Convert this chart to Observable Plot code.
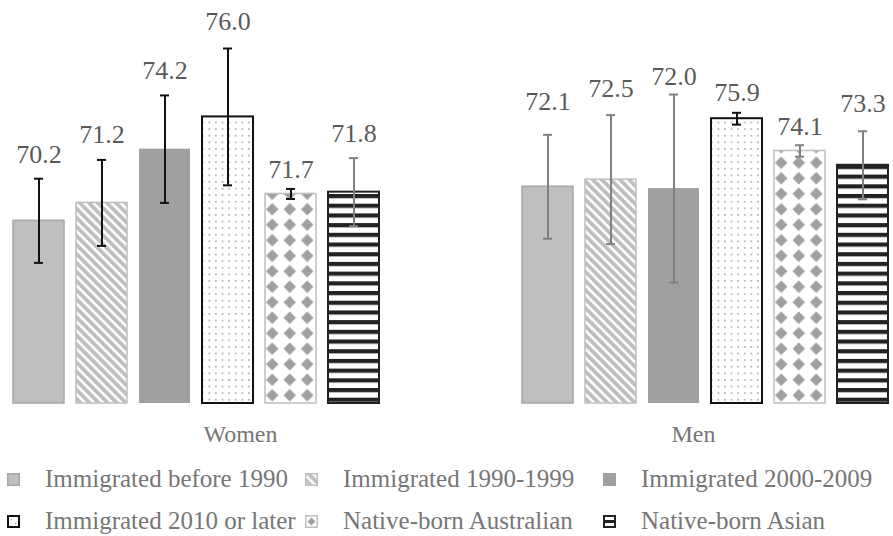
<!DOCTYPE html>
<html>
<head>
<meta charset="utf-8">
<script src="https://cdn.jsdelivr.net/npm/d3@7"></script>
<script src="https://cdn.jsdelivr.net/npm/@observablehq/plot@0.6"></script>
<style>
  body { margin: 0; background: #fff; font-family: "Liberation Serif", "Times New Roman", Times, serif; }
  #chart svg { display: block; }
  #legend { display: grid; grid-template-columns: 298px 298px 297px; width: 893px; }
  .item { display: flex; align-items: center; height: 42px; color: #767676; font-size: 25px; white-space: nowrap; }
  .item svg { margin-left: 7px; margin-right: 25px; flex: none; }
</style>
</head>
<body>
<svg width="0" height="0" style="position:absolute">
  <defs>
    <pattern id="pStripe" patternUnits="userSpaceOnUse" width="6.4" height="6.4" patternTransform="rotate(-45)">
      <rect width="6.4" height="6.4" fill="#fff"/>
      <rect width="3.8" height="6.4" fill="#bfbfbf"/>
    </pattern>
    <pattern id="pDots" patternUnits="userSpaceOnUse" width="6.6" height="6.6">
      <rect width="6.6" height="6.6" fill="#fff"/>
      <rect x="3" y="3" width="1.4" height="1.4" fill="#8c8c8c"/>
    </pattern>
    <pattern id="pDiamond" patternUnits="userSpaceOnUse" width="17.5" height="15.5">
      <rect width="17.5" height="15.5" fill="#fff"/>
      <polygon points="8.75,1.5 15,7.75 8.75,14 2.5,7.75" fill="#a0a0a0"/>
    </pattern>
    <pattern id="pHStripe" patternUnits="userSpaceOnUse" width="10" height="9.7">
      <rect width="10" height="9.7" fill="#fff"/>
      <rect y="0" width="10" height="4.2" fill="#222"/>
    </pattern>
  </defs>
</svg>
<div id="chart"></div>
<div id="legend"></div>
<script>
// Average values by group and migration / birthplace category, with error margins
const groups = ["Women", "Men"];
const seriesNames = [
  "Immigrated before 1990",
  "Immigrated 1990-1999",
  "Immigrated 2000-2009",
  "Immigrated 2010 or later",
  "Native-born Australian",
  "Native-born Asian"
];
const womenValues = [70.2, 71.2, 74.2, 76.0, 71.7, 71.8];
const menValues   = [72.1, 72.5, 72.0, 75.9, 74.1, 73.3];
const womenErrors = [2.35, 2.4, 3.0, 3.82, 0.28, 1.9];
const menErrors   = [2.9, 3.6, 5.25, 0.33, 0.32, 1.9];

// Look of each category's bar
const barStyles = [
  { fill: "#bfbfc1", stroke: "#a6a6a6", sw: 1.5 },
  { fill: "url(#pStripe)", stroke: "#bfbfbf", sw: 1.5 },
  { fill: "#a0a0a0", stroke: "none", sw: 0 },
  { fill: "url(#pDots)", stroke: "#111", sw: 2 },
  { fill: "url(#pDiamond)", stroke: "#bfbfbf", sw: 1.5 },
  { fill: "url(#pHStripe)", stroke: "#222", sw: 2 }
];
// Error bar colour per group, per category
const errorColors = {
  Women: ["#111", "#111", "#111", "#111", "#111", "#808080"],
  Men:   ["#808080", "#808080", "#808080", "#111", "#808080", "#808080"]
};
// Gap (px) between the top of each error bar and its value label
const labelLift = {
  Women: [16, 17, 16, 19, 11, 16],
  Men:   [25, 18, 10, 12, 10, 19]
};
// Horizontal nudge of the group captions
const captionShift = { Women: 44, Men: -12 };

const rows = groups.flatMap((g, gi) => seriesNames.map((s, si) => {
  const v = (gi === 0 ? womenValues : menValues)[si];
  const e = (gi === 0 ? womenErrors : menErrors)[si];
  return { group: g, series: s, si, value: v, lo: v - e, hi: v + e, err: errorColors[g][si] };
}));

const font = "'Liberation Serif', 'Times New Roman', Times, serif";

// One label mark per bar so that each can use its own constant dy
const labelMarks = groups.flatMap(g => seriesNames.map((s, si) =>
  Plot.text(rows.filter(d => d.group === g && d.si === si), {
    fx: "group", x: "series", y: "hi", text: d => d.value.toFixed(1),
    lineAnchor: "bottom", dy: -labelLift[g][si], fontSize: 26, fill: "#5a5a5a", fontFamily: font
  })
));

const chart = Plot.plot({
  width: 893,
  height: 458,
  marginTop: 0,
  marginBottom: 55,
  marginLeft: 10,
  marginRight: 2,
  style: { fontFamily: font, background: "#fff" },
  fx: { domain: groups, paddingInner: 0.2725, paddingOuter: 0, axis: null },
  x: { domain: seriesNames, paddingInner: 0.1875, paddingOuter: 0, axis: null },
  y: { domain: [60, 82.5], axis: null },
  color: { type: "identity" },
  marks: [
    ...seriesNames.map((s, i) => Plot.barY(rows.filter(d => d.series === s), {
      fx: "group", x: "series", y1: 60, y2: "value",
      fill: barStyles[i].fill, stroke: barStyles[i].stroke, strokeWidth: barStyles[i].sw
    })),
    Plot.ruleX(rows, { fx: "group", x: "series", y1: "lo", y2: "hi", stroke: "err", strokeWidth: 2 }),
    Plot.tickY(rows, { fx: "group", x: "series", y: "hi", stroke: "err", strokeWidth: 2, insetLeft: 21, insetRight: 21 }),
    Plot.tickY(rows, { fx: "group", x: "series", y: "lo", stroke: "err", strokeWidth: 2, insetLeft: 21, insetRight: 21 }),
    ...labelMarks,
    ...groups.map(g => Plot.text([g], {
      fx: d => d, text: d => d, frameAnchor: "bottom", dy: 38, dx: captionShift[g],
      fontSize: 24, fill: "#767676", fontFamily: font
    }))
  ]
});
document.getElementById("chart").append(chart);

// Legend swatches
const swatch = [
  '<rect x="0.75" y="0.75" width="11.5" height="11.5" fill="#bfbfc1" stroke="#a6a6a6" stroke-width="1.5"/>',
  '<rect x="0.75" y="0.75" width="11.5" height="11.5" fill="url(#pStripe)" stroke="#bfbfbf" stroke-width="1.5"/>',
  '<rect x="0" y="0" width="13" height="13" fill="#a0a0a0"/>',
  '<rect x="1" y="1" width="11" height="11" fill="#fff" stroke="#111" stroke-width="2"/><rect x="4" y="4" width="1" height="1" fill="#8c8c8c"/><rect x="8" y="8" width="1" height="1" fill="#8c8c8c"/>',
  '<rect x="0.75" y="0.75" width="11.5" height="11.5" fill="#fff" stroke="#bfbfbf" stroke-width="1.5"/><polygon points="6.5,2.5 10.5,6.5 6.5,10.5 2.5,6.5" fill="#a0a0a0"/>',
  '<rect x="1" y="1" width="11" height="11" fill="#fff" stroke="#222" stroke-width="2"/><rect x="1" y="5" width="11" height="3" fill="#222"/>'
];
const legend = document.getElementById("legend");
seriesNames.forEach((name, i) => {
  const div = document.createElement("div");
  div.className = "item";
  div.innerHTML = `<svg width="13" height="13" viewBox="0 0 13 13">${swatch[i]}</svg><span>${name}</span>`;
  legend.append(div);
});
</script>
</body>
</html>
